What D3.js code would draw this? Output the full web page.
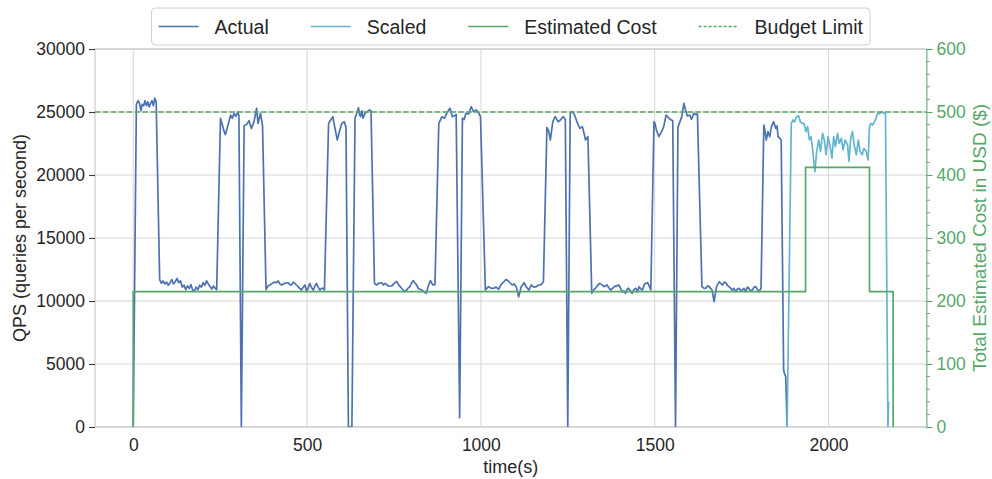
<!DOCTYPE html>
<html>
<head>
<meta charset="utf-8">
<script src="https://cdn.jsdelivr.net/npm/d3@7"></script>
<style>
  body { margin: 0; background: #fff; }
  svg { display: block; font-family: "Liberation Sans", Arial, sans-serif; }
</style>
</head>
<body>
<svg id="chart" width="992" height="479"></svg>
<script>
// ---- data ---------------------------------------------------------------
// Observed throughput: [time in s, queries per second]
const actualSeries = [
  [0,0],[9,25600],[14,25900],[18,25700],[22,25100],[26,25600],[30,25500],[34,25900],[38,25500],[42,25800],[46,25400],[50,25700],[54,25900],[58,25500],[62,26100],[66,25800],
  [76,11700],[81,11400],[86,11600],[91,11350],[96,11500],[101,11250],[106,11450],[111,11700],[116,11350],[121,11550],[126,11800],[131,11450],[136,11600],[141,11100],[146,11250],[151,10900],[156,11200],[161,11000],[166,11300],[171,10850],[176,10800],[181,11100],[186,10900],[191,11250],[196,11100],[201,11450],[206,11250],[211,11600],[216,11350],[221,11150],[226,10950],[231,11200],[236,11000],
  [240,10900],[251,24500],[256,24000],[261,23500],[265,23200],[270,23700],[275,24200],[280,24750],[285,24500],[290,24900],[295,24650],[301,25000],
  [304,24700],[311,0],[319,23900],[326,24000],[333,24300],[340,23700],[347,24200],[355,25300],[359,24100],[366,24900],[372,23900],
  [382,10900],[388,11200],[393,11270],[400,11400],[407,11500],[412,11450],[417,11600],[422,11350],[427,11270],[436,11400],[446,11450],[450,11300],[455,11270],[460,11500],[465,11400],[470,11250],[474,11140],[479,11000],[484,10870],[489,11100],[494,11270],[499,10740],[504,11100],[508,11400],[513,11050],[518,10870],[523,11200],[527,11400],[532,11100],[537,10870],[542,11000],[546,11010],[550,10870],
  [562,24100],[568,24370],[574,24630],[579,23900],[587,22780],[593,23440],[600,24100],[607,24230],
  [612,23800],[619,0],[629,0],[638,24500],[643,24900],[648,25340],[651,24800],[654,24630],[658,25100],[661,24500],[667,24900],[673,25030],[680,25160],[684,25100],
  [694,11400],[700,11270],[706,11400],[715,11450],[720,11270],[725,11400],[734,11190],[744,11190],[750,11400],[758,11550],[763,11300],[772,11010],[777,10870],[782,10740],[790,11000],[796,11140],[801,11450],[806,11620],[810,11450],[815,11270],[820,11000],[830,10870],[836,10740],[843,10610],[850,11300],[855,11620],[862,11270],
  [868,11300],[879,24100],[884,24370],[888,24630],[895,24500],[902,24900],[911,25300],[918,24630],[926,24750],
  [929,24800],[939,740],[947,24500],[952,24400],[957,24900],[965,24850],[972,25420],[979,25030],[987,25160],[994,24900],[999,24630],
  [1013,10870],[1022,11140],[1030,11000],[1037,11010],[1044,11100],[1051,10930],[1058,11300],[1066,11530],[1072,11700],[1078,11620],[1084,11450],[1090,11270],[1096,11350],[1102,11100],[1109,10340],[1116,11140],[1124,11450],[1130,11150],[1138,10870],[1145,11270],[1152,11100],[1160,11140],[1167,11270],[1174,11300],[1180,11530],
  [1190,23770],[1195,23500],[1200,22780],[1207,24230],[1214,24630],[1222,24230],[1229,24370],[1237,24630],[1241,24500],
  [1243,24400],[1250,0],[1257,24900],[1262,25030],[1268,24850],[1273,24500],[1278,24100],[1285,23700],[1292,23840],[1297,23300],[1301,22780],[1308,23040],
  [1319,10610],[1325,10900],[1330,11010],[1336,11250],[1342,11400],[1348,11300],[1354,11140],[1358,11200],[1363,11270],[1368,11050],[1373,10870],[1379,11000],[1384,11140],[1390,11200],[1397,11270],[1402,11000],[1406,10740],[1411,10800],[1416,10610],[1420,10900],[1425,11010],[1430,10800],[1435,10610],[1440,10900],[1446,11010],[1451,10740],[1455,11140],[1460,10950],[1465,10870],[1470,11300],[1474,11400],[1480,11450],[1484,11200],[1489,10870],
  [1498,24230],[1501,24100],[1505,23570],[1512,23040],[1520,23440],[1526,23840],[1533,24760],[1541,24500],[1548,24370],
  [1552,24300],[1560,0],[1567,23800],[1571,24100],[1578,24630],[1584,25690],[1589,25160],[1594,24680],[1601,24760],[1606,24420],[1613,24900],[1618,24800],[1623,24850],
  [1636,11140],[1642,11000],[1647,11010],[1652,11200],[1657,11140],[1661,11000],[1665,10870],[1671,9950],[1678,11140],[1683,11400],[1686,11530],[1690,11400],[1695,11270],[1700,11500],[1705,11450],[1709,11250],[1714,11140],[1719,11000],[1724,10870],[1728,11000],[1733,10740],[1738,10950],[1743,11010],[1748,10800],[1752,10870],[1757,11000],[1762,10740],[1767,11100],[1771,11010],[1776,10800],[1781,10870],[1786,11100],[1791,11140],[1796,10900],[1800,10740],[1806,11010],
  [1814,23970],[1818,23400],[1821,22780],[1826,23440],[1831,23040],[1836,23840],[1842,24230],[1845,24000],[1848,23710],[1852,23900],[1855,23040],[1860,22910],[1864,22780],
  [1871,4500],[1874,4200],[1877,4000],[1881,0]
];

// Throughput after scaling: [time in s, queries per second]
const scaledSeries = [
  [1881,0],[1893,24100],[1898,24370],[1902,24200],[1908,24630],[1914,24700],[1919,24230],[1924,24100],[1930,24100],[1935,23440],[1940,23840],[1945,22780],[1950,23040],[1954,22120],[1961,20260],[1966,21860],[1972,22780],[1977,21860],[1983,23310],[1988,22780],[1993,21600],[1999,23040],[2005,22250],[2010,21330],[2015,23040],[2020,22250],[2026,23310],[2031,22510],[2037,22910],[2042,21990],[2048,22780],[2055,22380],[2059,21070],[2064,22910],[2069,23440],[2074,22380],[2080,21600],[2086,22780],[2091,21860],[2097,21600],[2102,22120],[2108,21860],[2114,21200],[2118,23840],[2122,24100],[2127,23970],[2135,24370],[2141,24900],[2147,24850],[2153,25030],[2159,24900],[2164,24950],[2171,0],[2173,2000]
];

// Estimated cost, held constant after each change: [time in s, USD]
const costSteps = [[0,0],[0,215],[1934,412],[2118,215],[2186,0]];
const budgetLimit = 500;

const timeTicks = [0, 500, 1000, 1500, 2000];
const qpsTicks = [0, 5000, 10000, 15000, 20000, 25000, 30000];
const costTicks = [0, 100, 200, 300, 400, 500, 600];
const costMinorTicks = d3.range(0, 601, 20).filter(v => v % 100 !== 0);

const legendItems = ["Actual", "Scaled", "Estimated Cost", "Budget Limit"];

// ---- layout -------------------------------------------------------------
const C = {
  actual: "#4c72b0", scaled: "#64b5cd", cost: "#55a868",
  grid: "#d6d6d6", spine: "#cccccc", text: "#262626"
};
const plot = { left: 95, right: 926.5, top: 49, bottom: 427 };

const svg = d3.select("#chart");
const x = d3.scaleLinear().domain([-110, 2282]).range([plot.left, plot.right]);
const yQ = d3.scaleLinear().domain([0, 30000]).range([plot.bottom, plot.top]);
const yC = d3.scaleLinear().domain([0, 600]).range([plot.bottom, plot.top]);

svg.append("defs").append("clipPath").attr("id", "plotClip")
  .append("rect").attr("x", plot.left).attr("y", plot.top - 2)
  .attr("width", plot.right - plot.left).attr("height", plot.bottom - plot.top + 2);

// grid
const grid = svg.append("g");
grid.selectAll(".gx").data(timeTicks).join("line")
  .attr("x1", d => x(d)).attr("x2", d => x(d))
  .attr("y1", plot.top).attr("y2", plot.bottom)
  .attr("stroke", C.grid).attr("stroke-width", 1);
grid.selectAll(".gy").data(qpsTicks).join("line")
  .attr("x1", plot.left).attr("x2", plot.right)
  .attr("y1", d => yQ(d)).attr("y2", d => yQ(d))
  .attr("stroke", C.grid).attr("stroke-width", 1);

// frame
svg.append("rect").attr("x", plot.left).attr("y", plot.top)
  .attr("width", plot.right - plot.left).attr("height", plot.bottom - plot.top)
  .attr("fill", "none").attr("stroke", C.spine).attr("stroke-width", 1.2);

// series
const lines = svg.append("g").attr("clip-path", "url(#plotClip)");
const qpsLine = d3.line().x(d => x(d[0])).y(d => yQ(d[1]));
const costLine = d3.line().x(d => x(d[0])).y(d => yC(d[1])).curve(d3.curveStepAfter);

lines.append("path").datum(actualSeries).attr("d", qpsLine)
  .attr("fill", "none").attr("stroke", C.actual).attr("stroke-width", 1.7)
  .attr("stroke-linejoin", "round");
lines.append("path").datum(scaledSeries).attr("d", qpsLine)
  .attr("fill", "none").attr("stroke", C.scaled).attr("stroke-width", 1.7)
  .attr("stroke-linejoin", "round");
lines.append("path").datum(costSteps).attr("d", costLine)
  .attr("fill", "none").attr("stroke", C.cost).attr("stroke-width", 1.7);
lines.append("line")
  .attr("x1", plot.left).attr("x2", plot.right)
  .attr("y1", yC(budgetLimit)).attr("y2", yC(budgetLimit))
  .attr("stroke", C.cost).attr("stroke-width", 1.5).attr("stroke-dasharray", "5.5,2.4");

// left axis
const leftAxis = d3.axisLeft(yQ).tickValues(qpsTicks).tickSize(6).tickPadding(4).tickFormat(d3.format("d"));
const gl = svg.append("g").attr("transform", `translate(${plot.left},0)`).call(leftAxis);
gl.select(".domain").remove();
gl.selectAll(".tick line").attr("stroke", "#3a3a3a").attr("stroke-width", 1.1);
gl.selectAll(".tick text").attr("fill", C.text).attr("font-size", 17.5)
  .attr("font-family", "Liberation Sans, Arial, sans-serif");

// bottom axis (labels only)
const bottomAxis = d3.axisBottom(x).tickValues(timeTicks).tickSize(0).tickPadding(12).tickFormat(d3.format("d"));
const gb = svg.append("g").attr("transform", `translate(0,${plot.bottom})`).call(bottomAxis);
gb.select(".domain").remove();
gb.selectAll(".tick text").attr("fill", C.text).attr("font-size", 17.5)
  .attr("font-family", "Liberation Sans, Arial, sans-serif");

// right axis
const rightAxis = d3.axisRight(yC).tickValues(costTicks).tickSize(6).tickPadding(4).tickFormat(d3.format("d"));
const gr = svg.append("g").attr("transform", `translate(${plot.right},0)`).call(rightAxis);
gr.select(".domain").attr("stroke", C.cost).attr("stroke-width", 1.2).attr("opacity", 0.6);
gr.selectAll(".tick line").attr("stroke", C.cost).attr("stroke-width", 1.1);
gr.selectAll(".tick text").attr("fill", C.cost).attr("font-size", 17.5)
  .attr("font-family", "Liberation Sans, Arial, sans-serif");
gr.selectAll(".minor").data(costMinorTicks).join("line")
  .attr("x1", 0).attr("x2", 3.5)
  .attr("y1", d => yC(d)).attr("y2", d => yC(d))
  .attr("stroke", C.cost).attr("stroke-width", 0.9);

// axis titles
svg.append("text").attr("x", (plot.left + plot.right) / 2).attr("y", 473)
  .attr("text-anchor", "middle").attr("fill", C.text).attr("font-size", 18).text("time(s)");
svg.append("text").attr("transform", `translate(26,${(plot.top + plot.bottom) / 2}) rotate(-90)`)
  .attr("text-anchor", "middle").attr("fill", C.text).attr("font-size", 18).text("QPS (queries per second)");
svg.append("text").attr("transform", `translate(986,${(plot.top + plot.bottom) / 2}) rotate(-90)`)
  .attr("text-anchor", "middle").attr("fill", C.cost).attr("font-size", 19).text("Total Estimated Cost in USD ($)");

// legend
const legendStyles = [
  { stroke: C.actual, dash: null },
  { stroke: C.scaled, dash: null },
  { stroke: C.cost, dash: null },
  { stroke: C.cost, dash: "3,2" }
];
const lg = svg.append("g");
const box = lg.append("rect").attr("fill", "#fff").attr("stroke", "#d0d0d0")
  .attr("stroke-width", 1).attr("rx", 4).attr("ry", 4);
const handleLen = 40, handleGap = 16, itemGap = 42, pad = 7;
const items = lg.selectAll(".item").data(legendItems).join("g");
items.each(function (d, i) {
  const g = d3.select(this);
  g.append("line").attr("x1", 0).attr("x2", handleLen).attr("y1", 0).attr("y2", 0)
    .attr("stroke", legendStyles[i].stroke).attr("stroke-width", 1.7)
    .attr("stroke-dasharray", legendStyles[i].dash);
  const t = g.append("text").attr("x", handleLen + handleGap).attr("y", 7)
    .attr("fill", C.text).attr("font-size", 19.5).text(d);
  g.attr("data-w", t.node().getComputedTextLength());
});
let total = pad;
items.each(function (d, i) {
  const w = +d3.select(this).attr("data-w");
  d3.select(this).attr("data-x", total);
  total += handleLen + handleGap + w + (i < legendItems.length - 1 ? itemGap : 0);
});
total += pad;
const lx = (plot.left + plot.right) / 2 - total / 2;
const ly = 26.5;
items.attr("transform", function () { return `translate(${lx + (+d3.select(this).attr("data-x"))},${ly})`; });
box.attr("x", lx).attr("y", 8).attr("width", total).attr("height", 37);
</script>
</body>
</html>
